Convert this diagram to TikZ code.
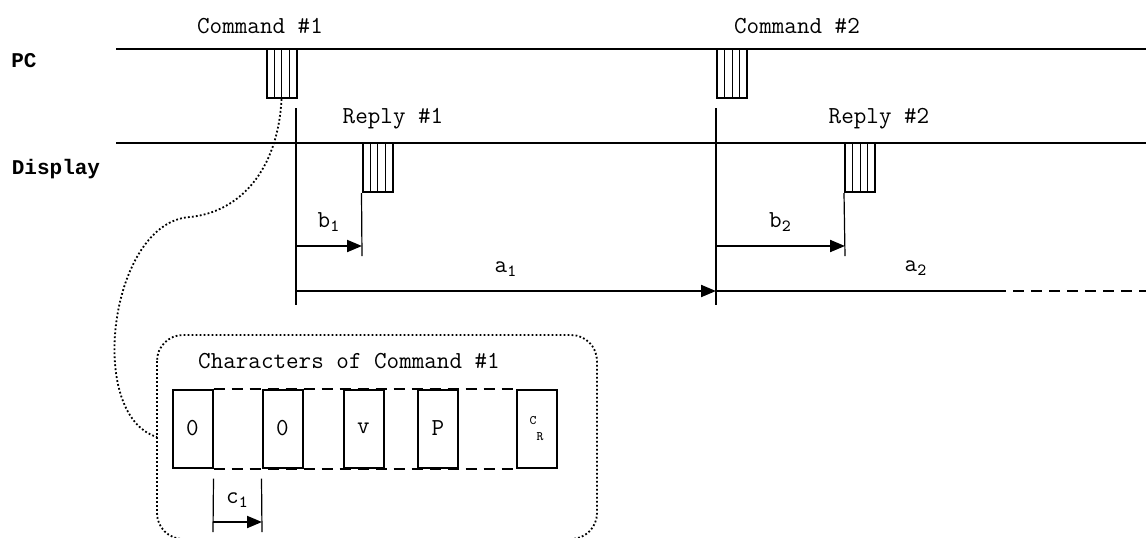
\documentclass[tikz,border=0pt]{standalone}
\usepackage{fontspec}
\newfontfamily\lanefont{Liberation Mono}
\usetikzlibrary{arrows.meta,calc}
\tikzset{
  txt/.style={font=\ttfamily\fontsize{12.2}{14}\selectfont, inner sep=0pt},
  lane/.style={font=\lanefont\bfseries\fontsize{10.5}{12}\selectfont, inner sep=0pt},
  pulse/.style={draw, line width=1pt, minimum width=15pt, minimum height=24.5pt, inner sep=0pt,
    path picture={\foreach \f in {0.25,0.5,0.75}
      \draw[line width=0.5pt] ($(path picture bounding box.south west)!\f!(path picture bounding box.south east)$)
        -- ($(path picture bounding box.north west)!\f!(path picture bounding box.north east)$);}},
  chbox/.style={draw, line width=1pt, minimum width=20pt, minimum height=39pt, inner sep=0pt,
    font=\ttfamily\fontsize{12.2}{14}\selectfont},
  mark line/.style={line width=0.6pt},
  dim/.style={line width=1pt, -{Triangle[length=7.5pt,width=6pt]}},
  dots/.style={line width=0.9pt, dash pattern=on 0.9pt off 1.1pt},
  dashes/.style={line width=1pt, dash pattern=on 5.5pt off 3.5pt}
}
\begin{document}
\begin{tikzpicture}[x=0.5pt,y=-0.5pt]
\useasboundingbox (0,0) rectangle (1146,537);
\clip (0,0) rectangle (1146,537);
% lanes
\node[lane] (pc) at (24,61) {PC};
\node[lane] (disp) at (56,169) {Display};
\coordinate (pcL) at (116,49);
\coordinate (pcR) at (1146,49);
\coordinate (dispL) at (116,143);
\coordinate (dispR) at (1146,143);
\draw[line width=1pt] (pcL) -- (pcR);
\draw[line width=1pt] (dispL) -- (dispR);
% commands and replies
\node[txt] (cmdlbl1) at (260,26) {Command \#1};
\node[txt] (cmdlbl2) at (797,26) {Command \#2};
\node[txt] (replbl1) at (393,119) {Reply \#1};
\node[txt] (replbl2) at (879,119) {Reply \#2};
\node[pulse] (cmd1) at (281.5,73.5) {};
\node[pulse] (cmd2) at (732,73.5) {};
\node[pulse] (rep1) at (377.5,167.5) {};
\node[pulse] (rep2) at (860,167.5) {};
% timing marks
\coordinate (m1top) at (296,108);
\coordinate (m1bot) at (296,305);
\coordinate (m2top) at (716,108);
\coordinate (m2bot) at (716,305);
\coordinate (r1bot) at (362,256);
\coordinate (r2bot) at (845,256);
\draw[mark line] (m1top) -- (m1bot);
\draw[mark line] (m2top) -- (m2bot);
\draw[mark line] (rep1.south west) -- (r1bot);
\draw[mark line] (rep2.south west) -- (r2bot);
\coordinate (b1s) at (296,246);
\coordinate (b1e) at (362,246);
\coordinate (b2s) at (716,246);
\coordinate (b2e) at (845,246);
\coordinate (a1s) at (296,291);
\coordinate (a1e) at (716,291);
\coordinate (a2e) at (995,291);
\coordinate (a2far) at (1146,291);
\draw[dim] (b1s) to node[txt, above=7pt] {b\textsubscript{1}} (b1e);
\draw[dim] (b2s) to node[txt, above=7pt] {b\textsubscript{2}} (b2e);
\draw[dim] (a1s) to node[txt, above=7pt] {a\textsubscript{1}} (a1e);
\draw[line width=1pt] (a1e) -- (a2e);
\draw[dashes] (a2e) -- (a2far);
\node[txt] (a2lbl) at (916,268) {a\textsubscript{2}};
% characters of command #1
\coordinate (frNW) at (157,335);
\coordinate (frSE) at (597,539);
\coordinate (frW) at (157,437);
\draw[dots, rounded corners=13pt] (frNW) rectangle (frSE);
\node[txt] (chlbl) at (349,361) {Characters of Command \#1};
\node[chbox] (ch1) at (192.5,428.5) {0};
\node[chbox] (ch2) at (282.5,428.5) {0};
\node[chbox] (ch3) at (363.5,428.5) {v};
\node[chbox] (ch4) at (438,428.5) {P};
\node[chbox] (ch5) at (536.5,428.5) {\fontsize{6.5}{7}\selectfont C\raisebox{-8pt}{R}};
\draw[dashes] (ch1.north east) -- (ch5.north west);
\draw[dashes] (ch1.south east) -- (ch5.south west);
\coordinate (c1a) at (213,532);
\coordinate (c1b) at (262,532);
\draw[mark line] (ch1.south east) ++(0,10) -- (c1a);
\draw[mark line] (ch2.south west) ++(0,10) -- (c1b);
\coordinate (c1s) at (213,522);
\coordinate (c1e) at (262,522);
\draw[dim] (c1s) to node[txt, above=7pt] {c\textsubscript{1}} (c1e);
% zoom link
\draw[dots] (cmd1.south) .. controls (278,170) and (240,212) .. (190,217)
  .. controls (110,222) and (85,415) .. (frW);
\end{tikzpicture}
\end{document}
